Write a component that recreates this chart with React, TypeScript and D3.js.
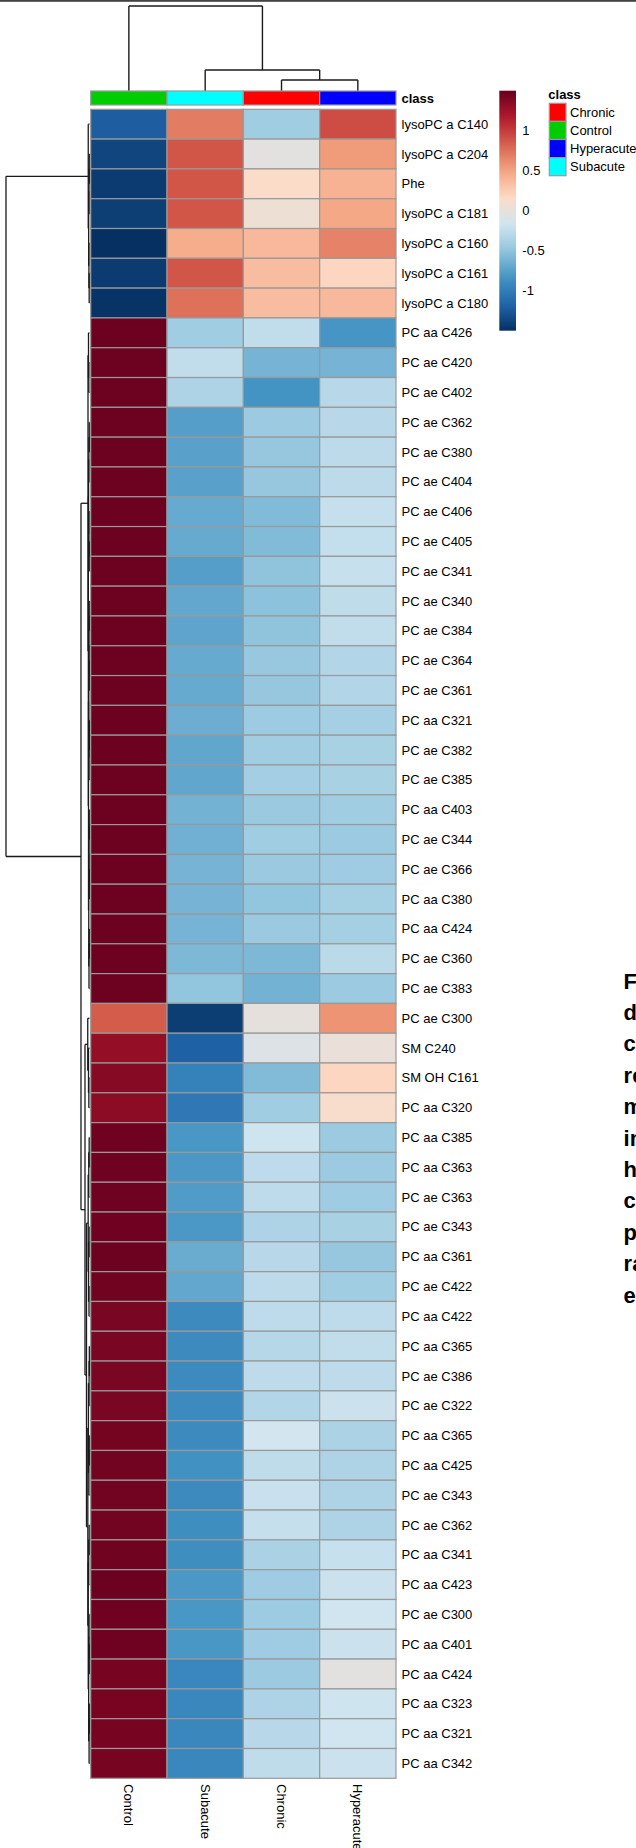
import React from "react";
import * as d3 from "d3";

// ---------- data ----------
const columns = ["Control", "Subacute", "Chronic", "Hyperacute"];
const legendClasses = ["Chronic", "Control", "Hyperacute", "Subacute"];
const legendClassColors = ["#FF0000", "#00CD00", "#0000FF", "#00FFFF"];
const legendTicks = [-1, -0.5, 0, 0.5, 1];

const rowLabels = [
  "lysoPC a C140", "lysoPC a C204", "Phe", "lysoPC a C181", "lysoPC a C160", "lysoPC a C161", "lysoPC a C180",
  "PC aa C426", "PC ae C420", "PC ae C402", "PC ae C362", "PC ae C380", "PC ae C404", "PC ae C406", "PC ae C405",
  "PC ae C341", "PC ae C340", "PC ae C384", "PC ae C364", "PC ae C361", "PC aa C321", "PC ae C382", "PC ae C385",
  "PC aa C403", "PC ae C344", "PC ae C366", "PC aa C380", "PC aa C424", "PC ae C360", "PC ae C383", "PC ae C300",
  "SM C240", "SM OH C161", "PC aa C320", "PC aa C385", "PC aa C363", "PC ae C363", "PC ae C343", "PC aa C361",
  "PC ae C422", "PC aa C422", "PC aa C365", "PC ae C386", "PC ae C322", "PC aa C365", "PC aa C425", "PC ae C343",
  "PC ae C362", "PC aa C341", "PC aa C423", "PC ae C300", "PC aa C401", "PC aa C424", "PC aa C323", "PC aa C321",
  "PC aa C342",
];

const controlVals = [
  -1.22, -1.37, -1.43, -1.41, -1.5, -1.43, -1.48,
  1.48, 1.48, 1.48, 1.48, 1.48, 1.48, 1.48, 1.48, 1.48, 1.48, 1.48, 1.48, 1.48, 1.48, 1.48, 1.48,
  1.48, 1.48, 1.48, 1.48, 1.48, 1.48, 1.48,
  0.85, 1.3, 1.36, 1.33, 1.47, 1.47, 1.47, 1.47, 1.48, 1.46,
  1.42, 1.42, 1.42, 1.42, 1.44, 1.45, 1.45, 1.45, 1.46, 1.48, 1.47, 1.47, 1.43, 1.43, 1.43, 1.43,
];
const subacuteVals = [
  0.7, 0.88, 0.88, 0.88, 0.45, 0.88, 0.75,
  -0.42, -0.25, -0.35, -0.76, -0.74, -0.74, -0.68, -0.68, -0.76, -0.7, -0.72, -0.68, -0.68, -0.66, -0.71, -0.71,
  -0.63, -0.64, -0.62, -0.62, -0.62, -0.59, -0.5,
  -1.42, -1.2, -0.97, -1.03, -0.81, -0.8, -0.78, -0.8, -0.67, -0.7,
  -0.9, -0.9, -0.9, -0.9, -0.9, -0.85, -0.9, -0.87, -0.87, -0.8, -0.81, -0.81, -0.92, -0.92, -0.92, -0.92,
];
const chronicVals = [
  -0.42, -0.03, 0.15, 0.05, 0.38, 0.35, 0.35,
  -0.25, -0.62, -0.83, -0.45, -0.48, -0.48, -0.57, -0.57, -0.51, -0.52, -0.51, -0.47, -0.48, -0.44, -0.42, -0.41,
  -0.46, -0.42, -0.46, -0.5, -0.46, -0.59, -0.63,
  -0.01, -0.08, -0.57, -0.42, -0.18, -0.27, -0.27, -0.35, -0.3, -0.28,
  -0.27, -0.31, -0.27, -0.33, -0.15, -0.26, -0.21, -0.23, -0.37, -0.43, -0.44, -0.43, -0.45, -0.35, -0.3, -0.26,
];
const hyperacuteVals = [
  0.92, 0.55, 0.42, 0.48, 0.67, 0.2, 0.38,
  -0.82, -0.62, -0.3, -0.3, -0.28, -0.28, -0.23, -0.24, -0.22, -0.26, -0.25, -0.33, -0.33, -0.4, -0.38, -0.38,
  -0.42, -0.45, -0.43, -0.4, -0.4, -0.29, -0.45,
  0.58, 0.02, 0.2, 0.13, -0.45, -0.45, -0.43, -0.38, -0.48, -0.42,
  -0.27, -0.25, -0.27, -0.2, -0.36, -0.35, -0.35, -0.35, -0.22, -0.2, -0.17, -0.2, -0.03, -0.18, -0.17, -0.2,
];

// dendrograms: [mergeHeight, left, right]; leaves are row/column indices
const colTree: any = [85, 0, [21, 1, [11, 2, 3]]];
const rowTree: any = [
  100,
  [1.5, 0, [1.0, [0.6, [0.3, 1, 2], 3], [0.7, 4, [0.4, 5, 6]]]],
  [
    10.2,
    [
      1.8,
      [1.2, 7, [0.8, 8, 9]],
      [
        1.4,
        [1.1, [0.7, [0.3, 10, 11], 12], [0.6, 13, [0.3, 14, 15]]],
        [1.2, [0.8, [0.5, [0.3, 16, 17], [0.3, 18, 19]], [0.5, [0.2, 20, 21], 22]], [0.9, [0.5, [0.3, 23, 24], [0.25, 25, 26]], [0.6, [0.3, 27, 28], 29]]],
      ],
    ],
    [
      5.4,
      [2.1, 30, [1.2, 31, [0.8, 32, 33]]],
      [
        3.6,
        [1.6, [0.9, [0.4, 34, 35], 36], [1.1, [0.5, 37, 38], [0.6, 39, 40]]],
        [
          2.0,
          [1.3, [0.5, [0.2, 41, 42], 43], [0.7, [0.3, 44, 45], 46]],
          [1.5, [0.9, [0.4, 47, 48], 49], [1.0, [0.5, 50, [0.3, 51, 52]], [0.5, [0.3, 53, 54], 55]]],
        ],
      ],
    ],
  ],
];

const rdbu10 = ["#053061", "#2166AC", "#4393C3", "#92C5DE", "#D1E5F0", "#FDDBC7", "#F4A582", "#D6604D", "#B2182B", "#67001F"];
const captionWords = ["Figure", "dendrogram", "clustering", "results", "metabolites", "in", "heatmap", "control", "patients", "ranked", "each"];

// ---------- layout helpers ----------
type Seg = { x1: number; y1: number; x2: number; y2: number };

function layoutTree(node: any, leafPos: (i: number) => number, hPos: (h: number) => number, segs: Seg[], vertical: boolean): { p: number; h: number } {
  if (typeof node === "number") return { p: leafPos(node), h: 0 };
  const [h, a, b] = node;
  const la = layoutTree(a, leafPos, hPos, segs, vertical);
  const lb = layoutTree(b, leafPos, hPos, segs, vertical);
  const p = (la.p + lb.p) / 2;
  const hp = hPos(h);
  for (const c of [la, lb]) {
    const cp = hPos(c.h);
    if (vertical) segs.push({ x1: c.p, y1: cp, x2: c.p, y2: hp });
    else segs.push({ x1: cp, y1: c.p, x2: hp, y2: c.p });
  }
  if (vertical) segs.push({ x1: la.p, y1: hp, x2: lb.p, y2: hp });
  else segs.push({ x1: hp, y1: la.p, x2: hp, y2: lb.p });
  return { p, h };
}

export default function App() {
  const W = 636, H = 1848;
  const font = "'Liberation Sans', Arial, Helvetica, sans-serif";

  const x = d3.scaleBand<string>().domain(columns).range([90.7, 396]);
  const rowIdx = d3.range(rowLabels.length);
  const y = d3.scaleBand<number>().domain(rowIdx).range([109.3, 1778.3]);

  const colorDomain = d3.range(rdbu10.length).map((i) => -1.5 + (i * 3) / (rdbu10.length - 1));
  const color = d3.scaleLinear<string>().domain(colorDomain).range(rdbu10).interpolate(d3.interpolateRgb).clamp(true);

  const values = rowIdx.map((i) => [controlVals[i], subacuteVals[i], chronicVals[i], hyperacuteVals[i]]);

  // column dendrogram
  const colSegs: Seg[] = [];
  const colH = d3.scaleLinear().domain([0, 85]).range([91, 6]);
  layoutTree(colTree, (i) => (x(columns[i]) as number) + x.bandwidth() / 2, colH, colSegs, true);

  // row dendrogram
  const rowSegs: Seg[] = [];
  const rowH = d3.scaleLinear().domain([0, 100]).range([89.5, 6]);
  layoutTree(rowTree, (i) => (y(i) as number) + y.bandwidth() / 2, rowH, rowSegs, false);

  // color key
  const keyY = d3.scaleLinear().domain([-1.5, 1.5]).range([330.7, 90.7]);
  const keyStops = d3.range(0, 1.0001, 0.05);

  const legendY = d3.scaleBand<string>().domain(legendClasses).range([103.3, 175.7]);
  const captionY = d3.scaleLinear().domain([0, captionWords.length - 1]).range([988.5, 1302.5]);

  return (
    <div style={{ position: "absolute", left: 0, top: 0 }}>
      <svg width={W} height={H} style={{ display: "block", background: "#fff" }} fontFamily={font}>
        <defs>
          <linearGradient id="key" x1="0" y1="1" x2="0" y2="0">
            {keyStops.map((t) => (
              <stop key={t} offset={t} stopColor={color(-1.5 + 3 * t)} />
            ))}
          </linearGradient>
        </defs>
        <rect x={0} y={0} width={W} height={H} fill="#fff" />
        <rect x={0} y={0} width={W} height={1.8} fill="#444" />

        {/* column dendrogram */}
        <g stroke="#1a1a1a" strokeWidth={1.4} fill="none">
          {colSegs.map((s, i) => (
            <line key={i} x1={s.x1} y1={s.y1} x2={s.x2} y2={s.y2} />
          ))}
        </g>
        {/* row dendrogram */}
        <g stroke="#1a1a1a" strokeWidth={1.3} fill="none">
          {rowSegs.map((s, i) => (
            <line key={i} x1={s.x1} y1={s.y1} x2={s.x2} y2={s.y2} />
          ))}
        </g>

        {/* annotation bar */}
        <g>
          {columns.map((c) => (
            <rect key={c} x={x(c)} y={91} width={x.bandwidth()} height={14}
              fill={legendClassColors[legendClasses.indexOf(c)]} stroke="#999" strokeWidth={1.2} />
          ))}
          <text x={401.5} y={98} dy="0.35em" fontSize={13} fontWeight="bold" fill="#000">class</text>
        </g>

        {/* heatmap */}
        <g stroke="#999" strokeWidth={1.2}>
          {rowIdx.map((r) =>
            columns.map((c, j) => (
              <rect key={r + "-" + j} x={x(c)} y={y(r)} width={x.bandwidth()} height={y.bandwidth()} fill={color(values[r][j])} />
            ))
          )}
        </g>

        {/* row labels */}
        <g fontSize={13} fill="#000">
          {rowIdx.map((r) => (
            <text key={r} x={401.5} y={(y(r) as number) + y.bandwidth() / 2} dy="0.35em">{rowLabels[r]}</text>
          ))}
        </g>

        {/* column labels */}
        <g fontSize={13} fill="#000">
          {columns.map((c) => {
            const cx = (x(c) as number) + x.bandwidth() / 2;
            return (
              <text key={c} transform={`translate(${cx},1784) rotate(90)`} dy="0.35em">{c}</text>
            );
          })}
        </g>

        {/* color key */}
        <rect x={499.3} y={keyY(1.5)} width={16.7} height={keyY(-1.5) - keyY(1.5)} fill="url(#key)" />
        <g fontSize={13} fill="#000">
          {legendTicks.map((t) => (
            <text key={t} x={522.3} y={keyY(t)} dy="0.35em">{String(t)}</text>
          ))}
        </g>

        {/* class legend */}
        <text x={548.3} y={94.7} dy="0.35em" fontSize={13} fontWeight="bold" fill="#000">class</text>
        {legendClasses.map((c, i) => (
          <g key={c}>
            <rect x={549.3} y={legendY(c)} width={16.7} height={legendY.bandwidth()} fill={legendClassColors[i]} stroke="#999" strokeWidth={1.2} />
            <text x={570} y={(legendY(c) as number) + legendY.bandwidth() / 2} dy="0.35em" fontSize={13} fill="#000">{c}</text>
          </g>
        ))}

        {/* caption, cut off by the right edge as in the reference */}
        <g fontSize={22} fontWeight="bold" fill="#000">
          {captionWords.map((w, i) => (
            <text key={i} x={623.6} y={captionY(i)}>{w}</text>
          ))}
        </g>
      </svg>
    </div>
  );
}
